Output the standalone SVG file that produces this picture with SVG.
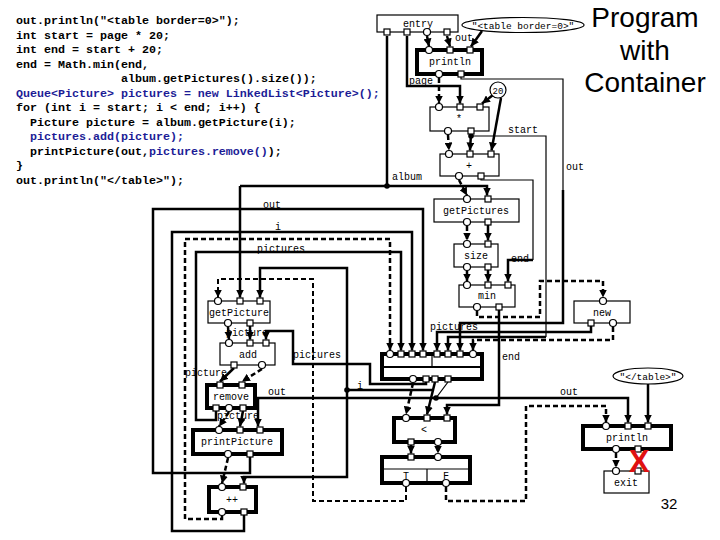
<svg xmlns="http://www.w3.org/2000/svg" width="720" height="540" viewBox="0 0 720 540">
<style>
.code{font-family:"Liberation Mono","DejaVu Sans Mono",monospace;font-weight:bold;font-size:11.67px;fill:#000}
.blue{fill:#1c1c96}
.lb{font-family:"Liberation Mono","DejaVu Sans Mono",monospace;font-size:10px;fill:#000;text-anchor:middle}
.cl{font-family:"Liberation Mono","DejaVu Sans Mono",monospace;font-size:10px;fill:#000}
.bx{fill:#fff;stroke:#000;stroke-width:1.2}
.tb{fill:#fff;stroke:#000;stroke-width:4}
.p{fill:#fff;stroke:#000;stroke-width:1.2}
.s{fill:none;stroke:#000;stroke-width:2.5}
.t{fill:none;stroke:#000;stroke-width:1.2}
.d{fill:none;stroke:#000;stroke-width:2.5;stroke-dasharray:5 3}
.ar{marker-end:url(#a)}
.title{font-family:"Liberation Sans",Arial,sans-serif;font-size:28px;fill:#000;text-anchor:middle}
</style>
<defs>
<marker id="a" viewBox="0 0 8 8" refX="8" refY="4" markerWidth="8" markerHeight="8" markerUnits="userSpaceOnUse" orient="auto"><path d="M0,0 L8,4 L0,8 z" fill="#000"/></marker>
</defs>
<rect width="720" height="540" fill="#fff"/>

<g id="code">
<text class="code" x="16" y="24">out.println("&lt;table border=0&gt;");</text>
<text class="code" x="16" y="38.5">int start = page * 20;</text>
<text class="code" x="16" y="53">int end = start + 20;</text>
<text class="code" x="16" y="67.5">end = Math.min(end,</text>
<text class="code" x="121" y="82">album.getPictures().size());</text>
<text class="code blue" x="16" y="96.5">Queue&lt;Picture&gt; pictures = new LinkedList&lt;Picture&gt;();</text>
<text class="code" x="16" y="111">for (int i = start; i &lt; end; i++) {</text>
<text class="code" x="30" y="125.5">Picture picture = album.getPicture(i);</text>
<text class="code blue" x="30" y="140">pictures.add(picture);</text>
<text class="code" x="30" y="154.5">printPicture(out,<tspan class="blue">pictures.remove()</tspan>);</text>
<text class="code" x="16" y="169">}</text>
<text class="code" x="16" y="183.5">out.println("&lt;/table&gt;");</text>
</g>

<g id="title">
<text class="title" x="645" y="27">Program</text>
<text class="title" x="645" y="60">with</text>
<text class="title" x="645" y="92">Container</text>
<text x="669" y="509" font-family="Liberation Sans,Arial,sans-serif" font-size="15" text-anchor="middle">32</text>
</g>

<g id="connectors">
<path class="d ar" d="M427,36 L429,46.5"/>
<path class="s ar" d="M447,36 L450,46.5"/>
<path class="s ar" d="M482,31 L471,46.5"/>
<path class="s ar" d="M407,36 V86 H460 V103.5"/>
<path class="s" d="M387,36 V186"/>
<path class="s ar" d="M240,186 H487 V195.5"/>
<path class="s ar" d="M240,186 V297.5"/>
<circle cx="387" cy="186" r="2.8"/>
<path class="d ar" d="M439,78 V103.5"/>
<path class="t" d="M461,77 V79 H563 V190"/>
<path class="s ar" d="M563,190 V323 H460 V350.5"/>
<path class="s ar" d="M493,95 L482,103.5"/>
<path class="s ar" d="M501,98 L491.5,150.5"/>
<path class="d ar" d="M448,135 L449,150.5"/>
<path class="s ar" d="M471,134 L470,150.5"/>
<circle cx="471" cy="136" r="2.8"/>
<path class="t" d="M471,136 H546 V337"/>
<path class="s ar" d="M546,337 H448 V350.5"/>
<path class="d ar" d="M459,180 L467,195.5"/>
<path class="t" d="M481,179 V180 H533 V260"/>
<path class="s ar" d="M533,260 H508 V281.5"/>
<path class="d ar" d="M467,226 V240.5"/>
<path class="s ar" d="M488,225 V240.5"/>
<path class="d ar" d="M467,271 V281.5"/>
<path class="s ar" d="M488,270 V281.5"/>
<path class="d ar" d="M477,311 V317 H540 V281 H603 V297.5"/>
<path class="s ar" d="M499,310 V405 H447 V414.5"/>
<path class="s ar" d="M591,326 V332 H437 V350.5"/>
<path class="d ar" d="M613,327 V340 H473 V350.5"/>

<path class="s ar" d="M250,457 V473 H153 V209 H423 V350.5"/>
<path class="s ar" d="M244,515 V531 H172 V232 H412 V350.5"/>
<path class="d ar" d="M222,516 V519 H185 V239 H390 V350.5"/>
<path class="s ar" d="M216,411 V420 H196 V252 H401 V350.5"/>
<path class="s ar" d="M347,390 V268 H260 V297.5"/>
<path class="s ar" d="M347,390 V477 H244 V483.5"/>
<circle cx="347" cy="390" r="2.8"/>
<path class="s" d="M435,382 L433,390 H347"/>
<path class="s ar" d="M433,390 L427,414.5"/>
<path class="s ar" d="M426,382 V384 H370 V364 H293 V331 H266 V339.5"/>
<path class="t" d="M448,382 L436,398"/>
<path class="s ar" d="M436,398 H258 V426.5"/>
<path class="s ar" d="M436,398 H628 V422.5"/>
<circle cx="436" cy="398" r="2.8"/>
<path class="d ar" d="M413,383 L406,414.5"/>
<path class="s ar" d="M411,445 V453.5"/>
<path class="d ar" d="M438,446 V453.5"/>
<path class="d ar" style="stroke-width:2" d="M406,487 V501 H313 V279 H218 V297.5"/>
<path class="d ar" d="M446,487 V501 H526 V406 H606 V422.5"/>
<path class="s ar" d="M648,384 V422.5"/>
<path class="d ar" d="M616,453 V467.5"/>
<path class="d ar" d="M228,327 L229,339.5"/>
<path class="s ar" d="M250,326 V339.5"/>
<path class="s ar" d="M234,368 L220,381.5"/>
<path class="d ar" d="M262,369 L242,381.5"/>
<path class="d ar" d="M229,412 L219,426.5"/>
<path class="s ar" d="M243,411 L240,426.5"/>
<path class="d ar" d="M228,458 L222,483.5"/>

<text class="cl" x="455" y="41">out</text>
<text class="cl" x="409" y="84">page</text>
<text class="cl" x="508" y="133">start</text>
<text class="cl" x="566" y="170">out</text>
<text class="cl" x="392" y="180">album</text>
<text class="cl" x="511" y="262">end</text>
<text class="cl" x="430" y="330">pictures</text>
<text class="cl" x="502" y="360">end</text>
<text class="cl" x="263" y="208">out</text>
<text class="cl" x="275" y="230">i</text>
<text class="cl" x="257" y="252">pictures</text>
<text class="cl" x="226" y="336">picture</text>
<text class="cl" x="293" y="358">pictures</text>
<text class="cl" x="185" y="376">picture</text>
<text class="cl" x="268" y="395">out</text>
<text class="cl" x="357" y="389">i</text>
<text class="cl" x="217" y="419">picture</text>
<text class="cl" x="560" y="395">out</text>
</g>

<g id="entry">
<rect class="bx" x="377" y="15" width="81" height="17"/>
<text class="lb" x="418" y="27">entry</text>
<rect class="p" x="384" y="29" width="6" height="6"/>
<rect class="p" x="404" y="29" width="6" height="6"/>
<circle class="p" cx="427" cy="32" r="3.5"/>
<rect class="p" x="444" y="29" width="6" height="6"/>
</g>

<g id="str-table">
<ellipse class="bx" cx="523" cy="25" rx="61" ry="7.5"/>
<text class="lb" x="523" y="28.5" style="font-size:9.5px">"&lt;table border=0&gt;"</text>
</g>

<g id="println1">
<rect class="tb" x="417" y="50" width="65" height="24"/>
<text class="lb" x="450" y="65">println</text>
<circle class="p" cx="429" cy="50" r="3.5"/>
<rect class="p" x="447" y="47" width="6" height="6"/>
<rect class="p" x="467" y="47" width="6" height="6"/>
<circle class="p" cx="439" cy="74" r="3.5"/>
<rect class="p" x="458" y="71" width="6" height="6"/>
</g>

<g id="const20">
<circle class="bx" cx="498" cy="90" r="8"/>
<text class="lb" x="498" y="93.5" style="font-size:9px">20</text>
</g>

<g id="mul">
<rect class="bx" x="430" y="107" width="59" height="24"/>
<text class="lb" x="459" y="122">*</text>
<circle class="p" cx="439" cy="107" r="3.5"/>
<rect class="p" x="457" y="104" width="6" height="6"/>
<rect class="p" x="477" y="104" width="6" height="6"/>
<circle class="p" cx="448" cy="131" r="3.5"/>
<rect class="p" x="468" y="128" width="6" height="6"/>
</g>

<g id="plus">
<rect class="bx" x="440" y="154" width="59" height="22"/>
<text class="lb" x="469" y="168.5">+</text>
<circle class="p" cx="449" cy="154" r="3.5"/>
<rect class="p" x="467" y="151" width="6" height="6"/>
<rect class="p" x="488" y="151" width="6" height="6"/>
<circle class="p" cx="459" cy="176" r="3.5"/>
<rect class="p" x="478" y="173" width="6" height="6"/>
</g>

<g id="getPictures">
<rect class="bx" x="434" y="199" width="85" height="23"/>
<text class="lb" x="476" y="214">getPictures</text>
<circle class="p" cx="467" cy="199" r="3.5"/>
<rect class="p" x="485" y="196" width="6" height="6"/>
<circle class="p" cx="467" cy="222" r="3.5"/>
<rect class="p" x="485" y="219" width="6" height="6"/>
</g>

<g id="size">
<rect class="bx" x="454" y="244" width="44" height="23"/>
<text class="lb" x="476" y="259">size</text>
<circle class="p" cx="467" cy="244" r="3.5"/>
<rect class="p" x="485" y="241" width="6" height="6"/>
<circle class="p" cx="467" cy="267" r="3.5"/>
<rect class="p" x="485" y="264" width="6" height="6"/>
</g>

<g id="min">
<rect class="bx" x="459" y="285" width="56" height="22"/>
<text class="lb" x="487" y="299">min</text>
<circle class="p" cx="467" cy="285" r="3.5"/>
<rect class="p" x="485" y="282" width="6" height="6"/>
<rect class="p" x="505" y="282" width="6" height="6"/>
<circle class="p" cx="477" cy="307" r="3.5"/>
<rect class="p" x="496" y="304" width="6" height="6"/>
</g>

<g id="new">
<rect class="bx" x="574" y="301" width="56" height="22"/>
<text class="lb" x="602" y="315.5">new</text>
<circle class="p" cx="603" cy="301" r="3.5"/>
<rect class="p" x="588" y="320" width="6" height="6"/>
<circle class="p" cx="613" cy="323" r="3.5"/>
</g>

<g id="getPicture">
<rect class="bx" x="208" y="301" width="62" height="22"/>
<text class="lb" x="239" y="315.5">getPicture</text>
<circle class="p" cx="218" cy="301" r="3.5"/>
<rect class="p" x="237" y="298" width="6" height="6"/>
<rect class="p" x="257" y="298" width="6" height="6"/>
<circle class="p" cx="228" cy="323" r="3.5"/>
<rect class="p" x="247" y="320" width="6" height="6"/>
</g>

<g id="add">
<rect class="bx" x="220" y="343" width="55" height="22"/>
<text class="lb" x="248" y="357.5">add</text>
<circle class="p" cx="229" cy="343" r="3.5"/>
<rect class="p" x="247" y="340" width="6" height="6"/>
<rect class="p" x="263" y="340" width="6" height="6"/>
<rect class="p" x="231" y="362" width="6" height="6"/>
<circle class="p" cx="262" cy="365" r="3.5"/>
</g>

<g id="remove">
<rect class="tb" x="207" y="385" width="48" height="23"/>
<text class="lb" x="231" y="400">remove</text>
<rect class="p" x="217" y="382" width="6" height="6"/>
<rect class="p" x="239" y="382" width="6" height="6"/>
<rect class="p" x="213" y="405" width="6" height="6"/>
<circle class="p" cx="229" cy="408" r="3.5"/>
<rect class="p" x="240" y="405" width="6" height="6"/>
</g>

<g id="printPicture">
<rect class="tb" x="193" y="430" width="89" height="24"/>
<text class="lb" x="237" y="445">printPicture</text>
<circle class="p" cx="219" cy="430" r="3.5"/>
<rect class="p" x="237" y="427" width="6" height="6"/>
<rect class="p" x="257" y="427" width="6" height="6"/>
<circle class="p" cx="228" cy="454" r="3.5"/>
<rect class="p" x="247" y="451" width="6" height="6"/>
</g>

<g id="incr">
<rect class="tb" x="209" y="487" width="47" height="25"/>
<text class="lb" x="232" y="502.5">++</text>
<circle class="p" cx="222" cy="487" r="3.5"/>
<rect class="p" x="240" y="484" width="6" height="6"/>
<circle class="p" cx="222" cy="512" r="3.5"/>
<rect class="p" x="241" y="509" width="6" height="6"/>
</g>

<g id="loop">
<rect class="tb" x="382" y="354" width="100" height="25"/>
<line class="t" x1="382" y1="367" x2="482" y2="367" style="stroke-width:2"/>
<line class="t" x1="432" y1="354" x2="432" y2="367"/>
<circle class="p" cx="390" cy="354" r="3.5"/>
<rect class="p" x="398" y="351" width="6" height="6"/>
<rect class="p" x="409" y="351" width="6" height="6"/>
<rect class="p" x="420" y="351" width="6" height="6"/>
<rect class="p" x="434" y="351" width="6" height="6"/>
<rect class="p" x="445" y="351" width="6" height="6"/>
<rect class="p" x="457" y="351" width="6" height="6"/>
<circle class="p" cx="473" cy="354" r="3.5"/>
<circle class="p" cx="413" cy="379" r="3.5"/>
<rect class="p" x="423" y="376" width="6" height="6"/>
<rect class="p" x="432" y="376" width="6" height="6"/>
<rect class="p" x="445" y="376" width="6" height="6"/>
</g>

<g id="less">
<rect class="tb" x="394" y="418" width="61" height="24"/>
<text class="lb" x="424" y="433">&lt;</text>
<circle class="p" cx="406" cy="418" r="3.5"/>
<rect class="p" x="424" y="415" width="6" height="6"/>
<rect class="p" x="444" y="415" width="6" height="6"/>
<rect class="p" x="408" y="439" width="6" height="6"/>
<circle class="p" cx="438" cy="442" r="3.5"/>
</g>

<g id="cond">
<rect class="tb" x="382" y="457" width="88" height="26"/>
<line class="t" x1="382" y1="469" x2="470" y2="469"/>
<line class="t" x1="427" y1="469" x2="427" y2="483"/>
<text class="lb" x="406" y="479">T</text>
<text class="lb" x="446" y="479">F</text>
<rect class="p" x="408" y="454" width="6" height="6"/>
<circle class="p" cx="438" cy="457" r="3.5"/>
<circle class="p" cx="406" cy="483" r="3.5"/>
<circle class="p" cx="446" cy="483" r="3.5"/>
</g>

<g id="str-endtable">
<ellipse class="bx" cx="648" cy="376" rx="35" ry="8"/>
<text class="lb" x="648" y="379.5" style="font-size:9.5px">"&lt;/table&gt;"</text>
</g>

<g id="println2">
<rect class="tb" x="583" y="426" width="88" height="23"/>
<text class="lb" x="627" y="441">println</text>
<circle class="p" cx="606" cy="426" r="3.5"/>
<rect class="p" x="625" y="423" width="6" height="6"/>
<rect class="p" x="645" y="423" width="6" height="6"/>
<circle class="p" cx="616" cy="449" r="3.5"/>
<rect class="p" x="635" y="446" width="6" height="6"/>
</g>

<g id="exit">
<rect class="bx" x="604" y="471" width="45" height="22"/>
<text class="lb" x="626" y="485.5">exit</text>
<circle class="p" cx="616" cy="471" r="3.5"/>
<rect class="p" x="635" y="468" width="6" height="6"/>
</g>

<g id="xmark">
<text x="639" y="472" font-family="Liberation Sans,Arial,sans-serif" font-weight="bold" font-size="31" fill="#e01010" text-anchor="middle">X</text>
</g>
</svg>
